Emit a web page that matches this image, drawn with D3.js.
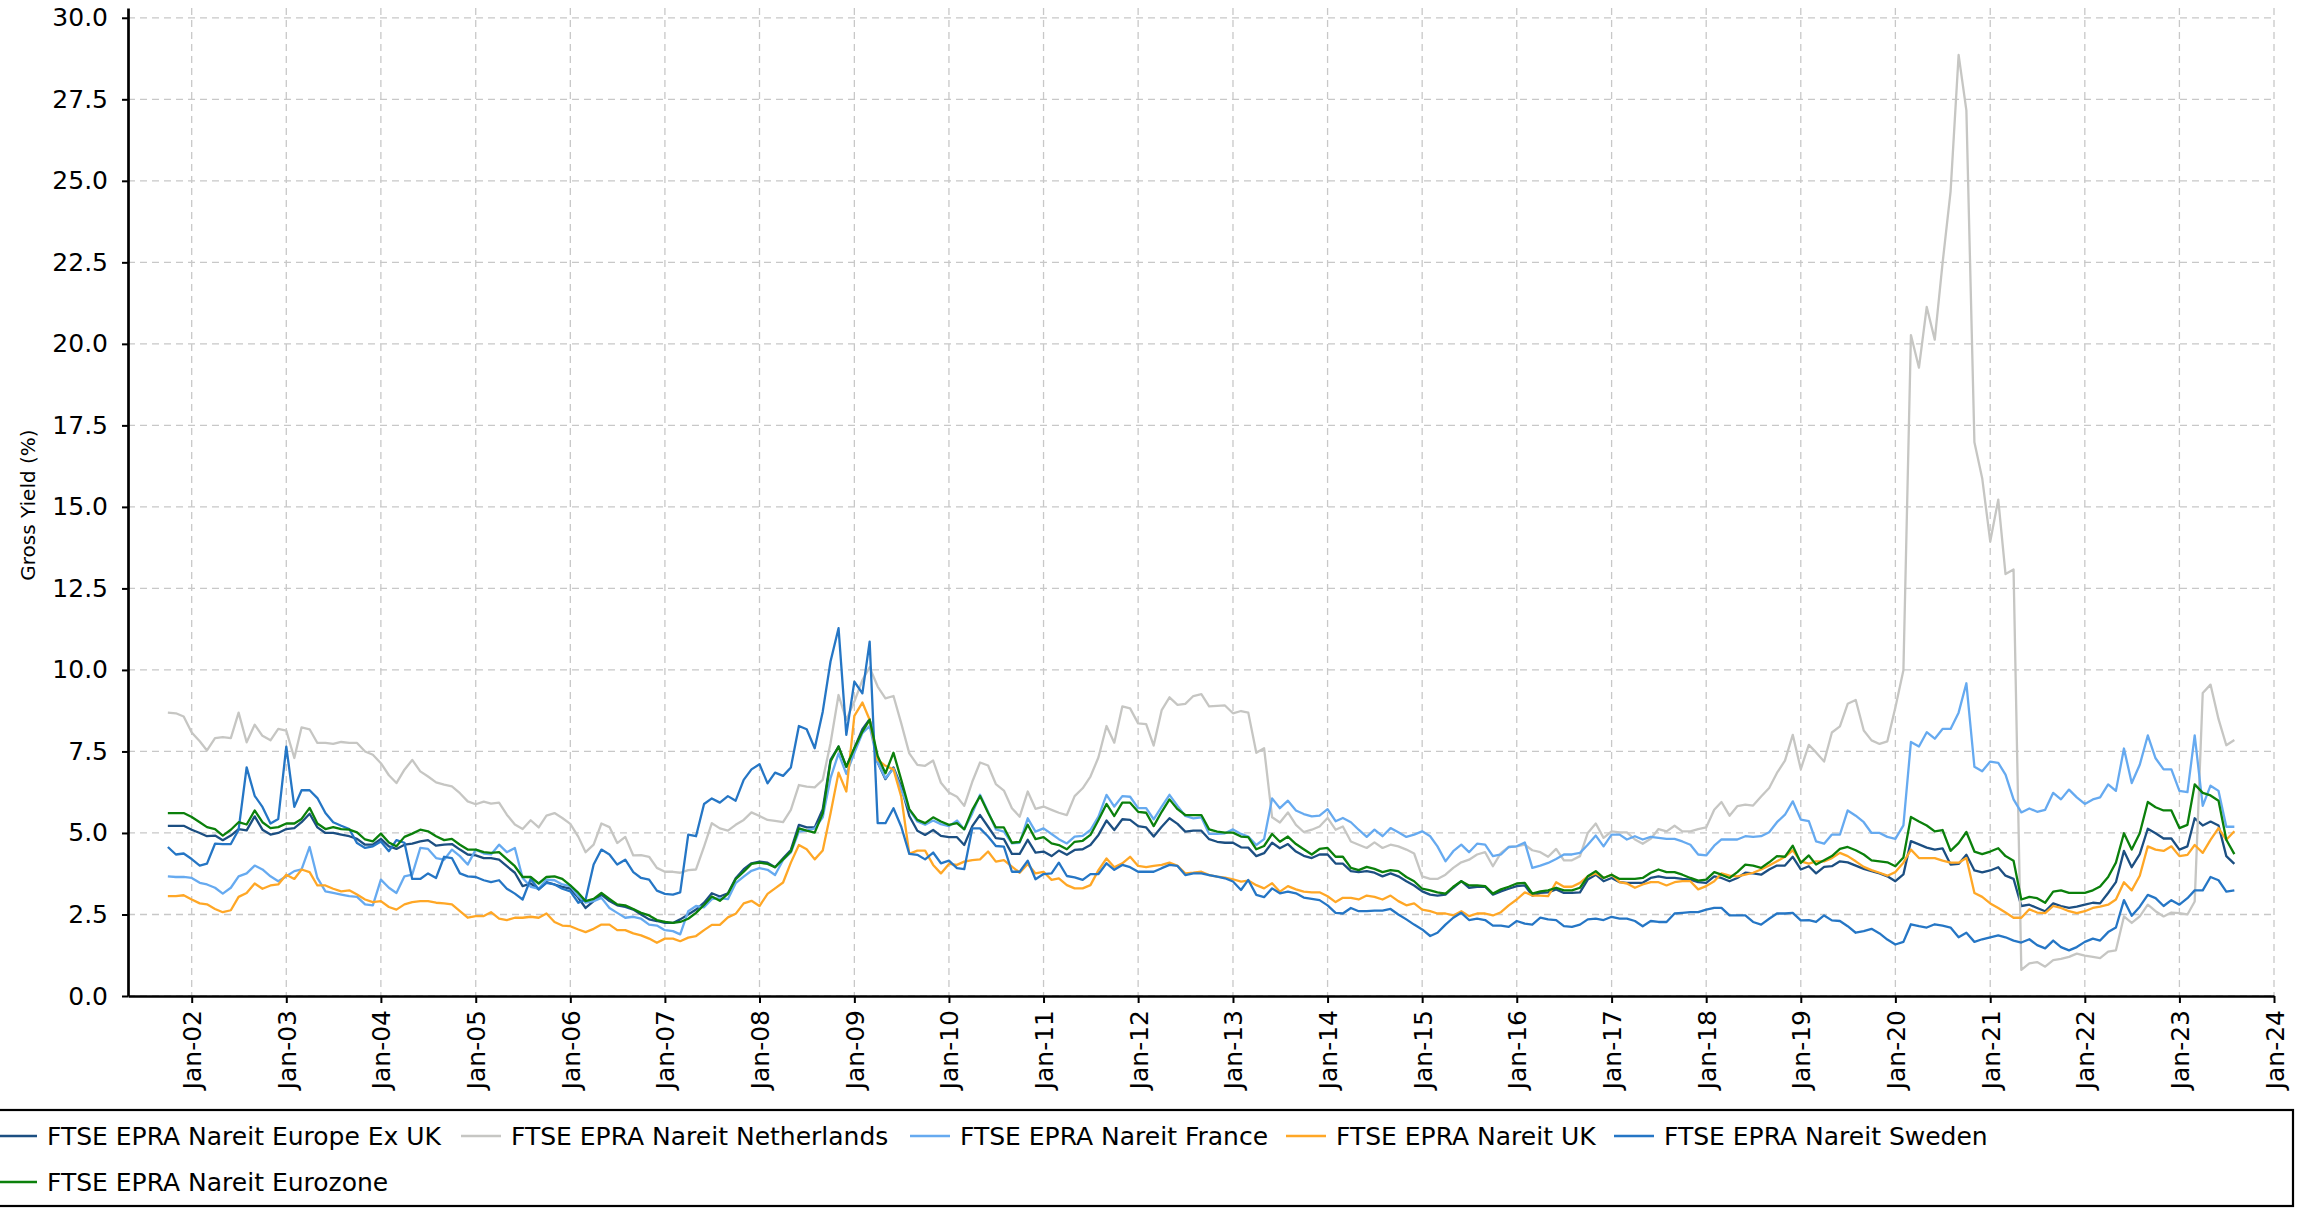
<!DOCTYPE html>
<html><head><meta charset="utf-8">
<script src="https://cdn.jsdelivr.net/npm/d3@7"></script>
<style>
html,body{margin:0;padding:0;background:#fff;}
svg{display:block;}
text{font-family:"DejaVu Sans",sans-serif;fill:#000;}
</style></head>
<body>
<svg id="chart" width="2306" height="1208"></svg>
<script>
// ---- DATA (monthly month-end values, Sep-2001 .. Jul-2023) ----
const firstMonth = [2001, 9];   // plotted at 1 Oct 2001 (month-end Sep 2001)
const lastMonth  = [2023, 7];   // plotted at 1 Aug 2023 (month-end Jul 2023)

const seriesNames = [
  "FTSE EPRA Nareit Europe Ex UK",
  "FTSE EPRA Nareit Netherlands",
  "FTSE EPRA Nareit France",
  "FTSE EPRA Nareit UK",
  "FTSE EPRA Nareit Sweden",
  "FTSE EPRA Nareit Eurozone"
];

const europeExUK = [
5.22,5.22,5.22,5.10,5.00,4.90,4.92,4.78,4.92,5.12,
5.08,5.51,5.10,4.95,5.00,5.12,5.15,5.33,5.59,5.17,
5.00,5.00,4.95,4.90,4.82,4.64,4.64,4.82,4.59,4.51,
4.64,4.67,4.74,4.78,4.61,4.64,4.66,4.49,4.34,4.31,
4.23,4.23,4.18,3.98,3.78,3.37,3.45,3.27,3.49,3.42,
3.35,3.29,3.01,2.70,2.91,3.11,2.91,2.78,2.73,2.65,
2.50,2.35,2.30,2.24,2.24,2.35,2.50,2.65,
2.86,3.15,3.05,3.15,3.61,3.89,4.07,4.12,4.09,3.95,
4.22,4.48,5.25,5.17,5.17,5.73,7.24,7.65,7.03,7.60,
8.18,8.49,7.16,6.65,7.01,6.42,5.52,5.07,4.94,5.09,
4.91,4.87,4.87,4.63,5.21,5.55,5.19,4.84,4.81,4.36,
4.36,4.79,4.40,4.43,4.29,4.46,4.33,4.48,4.50,4.63,
4.94,5.38,5.09,5.42,5.40,5.21,5.17,4.89,5.19,5.45,
5.28,5.04,5.07,5.07,4.81,4.73,4.70,4.70,4.56,4.55,
4.29,4.38,4.70,4.53,4.66,4.43,
4.30,4.23,4.34,4.34,4.06,4.06,3.83,3.80,3.83,3.78,
3.67,3.76,3.67,3.52,3.39,3.21,3.11,3.08,3.11,3.32,
3.52,3.32,3.35,3.35,3.11,3.21,3.29,3.37,3.39,3.08,
3.16,3.18,3.27,3.16,3.16,3.18,3.57,3.72,3.52,3.62,
3.49,3.47,3.47,3.47,3.62,3.67,3.62,3.62,3.59,3.57,
3.49,3.47,3.67,3.62,3.52,3.62,3.78,3.76,3.72,3.88,
4.00,4.00,4.27,3.88,3.98,3.76,3.96,3.98,4.13,4.10,
4.00,3.90,3.83,3.76,3.67,3.52,
3.73,4.75,4.65,4.55,4.49,4.53,4.03,4.05,4.33,3.85,
3.79,3.85,3.95,3.69,3.59,2.76,2.80,2.70,2.60,2.84,
2.76,2.70,2.74,2.80,2.86,2.84,3.16,3.49,4.45,3.95,
4.35,5.13,4.99,4.83,4.83,4.49,4.59,5.45,5.23,5.35,
5.23,4.29,4.05
];

const netherlands = [
8.69,8.67,8.57,8.08,7.81,7.53,7.91,7.94,7.91,8.69,
7.78,8.32,7.98,7.84,8.19,8.14,7.30,8.24,8.18,7.76,
7.76,7.73,7.79,7.76,7.76,7.50,7.40,7.14,6.77,6.53,
6.94,7.24,6.89,6.73,6.55,6.48,6.43,6.22,5.97,5.88,
5.96,5.90,5.93,5.56,5.26,5.12,5.39,5.17,5.53,5.61,
5.46,5.28,4.88,4.41,4.64,5.29,5.18,4.69,4.88,4.31,
4.32,4.27,3.93,3.81,3.81,3.78,3.86,3.88,
4.58,5.30,5.14,5.07,5.25,5.40,5.63,5.52,5.40,5.37,
5.33,5.71,6.47,6.42,6.40,6.63,7.75,9.23,8.47,9.03,
9.69,10.08,9.49,9.13,9.20,8.36,7.44,7.09,7.06,7.22,
6.54,6.24,6.11,5.83,6.57,7.16,7.07,6.50,6.30,5.76,
5.50,6.27,5.74,5.81,5.71,5.62,5.55,6.13,6.37,6.73,
7.32,8.28,7.77,8.88,8.82,8.36,8.34,7.68,8.77,9.16,
8.93,8.96,9.20,9.26,8.88,8.90,8.91,8.67,8.74,8.69,
7.46,7.60,5.48,5.32,5.63,5.25,
5.03,5.10,5.20,5.46,5.10,5.20,4.74,4.64,4.54,4.71,
4.54,4.64,4.59,4.49,4.37,3.67,3.59,3.59,3.72,3.93,
4.10,4.18,4.34,4.41,3.98,4.39,4.57,4.59,4.64,4.47,
4.41,4.27,4.51,4.16,4.16,4.29,5.00,5.29,4.85,5.05,
5.02,5.02,4.80,4.67,4.82,5.12,5.05,5.22,5.05,5.05,
5.12,5.17,5.71,5.95,5.53,5.82,5.87,5.84,6.12,6.38,
6.84,7.22,8.01,6.96,7.70,7.47,7.19,8.08,8.27,8.96,
9.08,8.14,7.84,7.73,7.81,8.85,
9.99,20.27,19.27,21.13,20.13,22.47,24.67,28.86,27.16,16.98,
15.88,13.94,15.22,12.94,13.08,0.80,1.00,1.04,0.90,1.10,
1.14,1.20,1.30,1.24,1.20,1.16,1.36,1.40,2.44,2.24,
2.44,2.80,2.60,2.44,2.56,2.54,2.50,2.90,9.29,9.55,
8.49,7.69,7.85
];

const france = [
3.67,3.65,3.65,3.62,3.47,3.42,3.32,3.14,3.32,3.67,
3.76,4.00,3.88,3.67,3.52,3.67,3.83,3.88,4.57,3.62,
3.21,3.16,3.11,3.06,3.04,2.81,2.78,3.57,3.32,3.16,
3.67,3.72,4.54,4.51,4.23,4.18,4.49,4.29,4.03,4.49,
4.37,4.34,4.64,4.41,4.54,3.62,3.35,3.29,3.57,3.55,
3.42,3.37,3.06,2.86,2.91,3.01,2.70,2.55,2.40,2.43,
2.37,2.19,2.16,2.02,1.99,1.89,2.60,2.76,
2.72,2.97,3.00,2.97,3.46,3.66,3.84,3.92,3.87,3.71,
4.17,4.40,5.04,5.07,5.14,5.48,6.68,7.44,6.81,7.46,
8.06,8.28,7.16,6.68,6.98,6.32,5.71,5.35,5.25,5.38,
5.27,5.21,5.38,5.11,5.60,6.17,5.65,5.11,5.04,4.68,
4.70,5.45,5.04,5.14,4.97,4.81,4.68,4.89,4.91,5.09,
5.50,6.17,5.81,6.13,6.11,5.76,5.76,5.42,5.81,6.17,
5.83,5.52,5.45,5.48,4.97,4.97,4.99,5.11,4.97,4.89,
4.63,4.81,6.06,5.76,5.99,5.69,
5.58,5.51,5.53,5.73,5.36,5.46,5.33,5.10,4.88,5.10,
4.90,5.15,5.02,4.88,4.95,5.05,4.90,4.59,4.13,4.44,
4.64,4.41,4.67,4.64,4.29,4.34,4.57,4.59,4.71,3.93,
4.00,4.08,4.20,4.34,4.34,4.39,4.64,4.92,4.59,4.95,
4.95,4.80,4.90,4.80,4.88,4.85,4.82,4.82,4.74,4.64,
4.34,4.31,4.61,4.80,4.80,4.80,4.90,4.88,4.90,5.02,
5.33,5.56,5.97,5.41,5.36,4.74,4.67,4.95,4.95,5.69,
5.53,5.33,5.00,5.00,4.88,4.82,
5.23,7.79,7.65,8.09,7.89,8.19,8.19,8.69,9.59,7.03,
6.89,7.19,7.15,6.79,6.03,5.63,5.75,5.65,5.71,6.23,
6.03,6.33,6.09,5.89,6.03,6.09,6.49,6.29,7.59,6.53,
7.09,7.99,7.29,6.95,6.95,6.29,6.25,7.99,5.83,6.45,
6.29,5.19,5.19
];

const uk = [
3.06,3.06,3.09,2.96,2.84,2.81,2.67,2.57,2.63,3.04,
3.16,3.45,3.29,3.39,3.42,3.72,3.59,3.88,3.80,3.39,
3.39,3.29,3.21,3.24,3.11,2.96,2.88,2.91,2.73,2.65,
2.81,2.88,2.91,2.91,2.86,2.84,2.81,2.60,2.40,2.45,
2.45,2.57,2.37,2.33,2.40,2.40,2.43,2.40,2.53,2.27,
2.16,2.14,2.04,1.96,2.06,2.19,2.19,2.02,2.02,1.92,
1.86,1.76,1.63,1.76,1.76,1.68,1.79,1.84,
2.02,2.18,2.18,2.41,2.52,2.84,2.92,2.76,3.13,3.30,
3.48,4.09,4.63,4.50,4.19,4.46,5.60,6.85,6.27,8.59,
9.00,8.47,7.24,7.06,6.95,6.11,4.36,4.46,4.46,4.02,
3.76,4.05,4.02,4.12,4.17,4.19,4.43,4.12,4.17,3.97,
3.78,4.05,3.76,3.81,3.56,3.61,3.40,3.30,3.30,3.40,
3.86,4.22,3.95,4.07,4.27,3.99,3.95,3.99,4.02,4.09,
3.99,3.76,3.78,3.81,3.71,3.66,3.63,3.58,3.51,3.54,
3.40,3.30,3.46,3.20,3.37,3.27,
3.20,3.18,3.18,3.06,2.88,3.01,3.01,2.96,3.08,3.04,
2.96,3.08,2.91,2.78,2.84,2.65,2.60,2.53,2.53,2.47,
2.60,2.45,2.53,2.53,2.47,2.57,2.78,2.96,3.18,3.08,
3.08,3.06,3.49,3.35,3.35,3.47,3.67,3.76,3.62,3.72,
3.49,3.45,3.32,3.42,3.49,3.49,3.39,3.49,3.52,3.52,
3.27,3.37,3.52,3.76,3.69,3.67,3.72,3.78,3.88,4.00,
4.13,4.27,4.47,4.13,4.06,4.13,4.13,4.23,4.39,4.29,
4.13,3.96,3.86,3.78,3.69,3.80,
4.09,4.49,4.23,4.23,4.23,4.15,4.09,4.09,4.23,3.16,
3.04,2.84,2.70,2.56,2.40,2.40,2.66,2.56,2.54,2.76,
2.70,2.60,2.54,2.60,2.70,2.74,2.80,2.96,3.49,3.24,
3.69,4.59,4.49,4.45,4.59,4.29,4.33,4.63,4.39,4.79,
5.15,4.79,5.05
];

const sweden = [
4.57,4.34,4.37,4.20,4.00,4.06,4.67,4.66,4.66,5.10,
7.01,6.14,5.80,5.29,5.43,7.65,5.80,6.31,6.31,6.07,
5.61,5.33,5.22,5.12,4.69,4.54,4.59,4.74,4.44,4.78,
4.70,3.59,3.59,3.76,3.62,4.27,4.23,3.76,3.67,3.65,
3.55,3.49,3.55,3.29,3.14,2.96,3.59,3.27,3.47,3.42,
3.29,3.21,2.86,2.96,4.03,4.49,4.34,4.03,4.18,3.80,
3.62,3.57,3.23,3.13,3.11,3.18,4.95,4.90,
5.89,6.06,5.93,6.13,5.99,6.63,6.95,7.11,6.52,6.85,
6.75,7.01,8.28,8.18,7.60,8.72,10.26,11.28,8.01,9.64,
9.28,10.87,5.30,5.30,5.76,5.19,4.36,4.33,4.19,4.40,
4.07,4.15,3.92,3.89,5.14,5.14,4.89,4.60,4.58,3.81,
3.81,4.15,3.58,3.74,3.76,4.09,3.68,3.64,3.56,3.74,
3.74,4.07,3.87,4.02,3.95,3.81,3.81,3.81,3.92,4.02,
3.99,3.71,3.76,3.76,3.71,3.66,3.61,3.51,3.25,3.56,
3.10,3.03,3.30,3.15,3.20,3.15,
3.02,2.98,2.94,2.78,2.55,2.53,2.70,2.60,2.60,2.62,
2.62,2.67,2.50,2.35,2.19,2.04,1.84,1.94,2.19,2.40,
2.55,2.33,2.37,2.33,2.16,2.16,2.12,2.30,2.22,2.19,
2.40,2.35,2.33,2.14,2.12,2.19,2.35,2.37,2.33,2.43,
2.37,2.37,2.30,2.14,2.30,2.27,2.27,2.53,2.55,2.57,
2.57,2.65,2.70,2.70,2.47,2.47,2.47,2.27,2.19,2.37,
2.53,2.53,2.55,2.32,2.33,2.27,2.47,2.32,2.30,2.14,
1.94,1.99,2.06,1.92,1.73,1.58,
1.66,2.20,2.14,2.10,2.20,2.16,2.10,1.80,1.94,1.66,
1.74,1.80,1.86,1.80,1.70,1.64,1.74,1.56,1.46,1.70,
1.50,1.40,1.50,1.66,1.76,1.70,1.96,2.10,2.94,2.46,
2.74,3.10,3.00,2.76,2.94,2.80,3.00,3.24,3.24,3.65,
3.55,3.20,3.24
];

const eurozone = [
5.61,5.61,5.61,5.49,5.33,5.18,5.12,4.92,5.10,5.33,
5.26,5.69,5.33,5.15,5.18,5.29,5.29,5.43,5.77,5.29,
5.12,5.18,5.12,5.10,5.02,4.80,4.74,4.98,4.71,4.59,
4.88,4.98,5.10,5.05,4.90,4.78,4.82,4.64,4.49,4.49,
4.41,4.39,4.41,4.20,3.98,3.65,3.65,3.45,3.65,3.67,
3.59,3.39,3.16,2.91,2.98,3.16,2.98,2.81,2.78,2.67,
2.55,2.47,2.33,2.27,2.24,2.27,2.37,2.55,
2.79,3.05,2.92,3.13,3.58,3.81,4.05,4.09,4.05,3.95,
4.19,4.43,5.14,5.07,5.01,5.60,7.19,7.65,7.03,7.60,
8.11,8.47,7.36,6.83,7.46,6.63,5.73,5.40,5.30,5.48,
5.35,5.25,5.30,5.11,5.71,6.13,5.62,5.17,5.17,4.70,
4.73,5.25,4.81,4.87,4.68,4.63,4.50,4.73,4.76,4.94,
5.40,5.89,5.52,5.93,5.93,5.65,5.62,5.21,5.65,6.03,
5.73,5.55,5.55,5.55,5.11,5.04,5.01,5.01,4.89,4.87,
4.50,4.60,4.97,4.73,4.89,4.66,
4.50,4.34,4.51,4.54,4.27,4.27,3.93,3.86,3.96,3.90,
3.80,3.86,3.83,3.65,3.52,3.29,3.24,3.18,3.14,3.35,
3.52,3.39,3.39,3.37,3.14,3.27,3.35,3.45,3.47,3.14,
3.21,3.24,3.32,3.24,3.24,3.32,3.67,3.83,3.62,3.72,
3.59,3.59,3.59,3.62,3.78,3.88,3.80,3.80,3.72,3.62,
3.54,3.57,3.80,3.72,3.62,3.80,4.03,4.00,3.93,4.10,
4.29,4.27,4.61,4.08,4.31,4.03,4.16,4.29,4.51,4.57,
4.47,4.34,4.16,4.13,4.10,3.98,
4.25,5.49,5.35,5.23,5.05,5.09,4.45,4.69,5.03,4.43,
4.35,4.43,4.53,4.29,4.15,2.96,3.04,3.00,2.86,3.20,
3.24,3.16,3.16,3.16,3.24,3.36,3.65,4.09,4.99,4.49,
4.99,5.95,5.79,5.69,5.69,5.15,5.25,6.49,6.23,6.15,
5.99,4.79,4.35
];

const yTickValues = [0, 2.5, 5, 7.5, 10, 12.5, 15, 17.5, 20, 22.5, 25, 27.5, 30];
const xTickYears = [2002,2003,2004,2005,2006,2007,2008,2009,2010,2011,2012,2013,
                    2014,2015,2016,2017,2018,2019,2020,2021,2022,2023,2024];
const yAxisTitle = "Gross Yield (%)";

// ---- STYLE / LAYOUT ----
const seriesValues = [europeExUK, netherlands, france, uk, sweden, eurozone];
const seriesColors = ["#1c4f82", "#c6c6c3", "#66aaf0", "#ffa726", "#2576c5", "#0b800b"];
const legendLayout = [
  {hx: -3,   row: 0}, {hx: 461, row: 0}, {hx: 910, row: 0},
  {hx: 1286, row: 0}, {hx: 1614, row: 0}, {hx: -3, row: 1}
];

const svg = d3.select("#chart");
const xLeft = 128, xRight = 2274, yTop = 8, yBottom = 996;

const dates = d3.timeMonth.range(new Date(firstMonth[0], firstMonth[1], 1),
                                 new Date(lastMonth[0], lastMonth[1] + 1, 1));
seriesValues.forEach((s, i) => { if (s.length !== dates.length) console.warn(seriesNames[i], s.length, dates.length); });

const xRef = d3.scaleTime().domain([new Date(2002,0,1), new Date(2024,0,1)]).range([191.7, xRight]);
const x = d3.scaleTime().domain([xRef.invert(xLeft), new Date(2024,0,1)]).range([xLeft, xRight]);
const y = d3.scaleLinear().domain([0, 30.3]).range([yBottom, yTop]);
const xTickDates = xTickYears.map(yr => new Date(yr, 0, 1));

// grid
const grid = svg.append("g");
grid.selectAll("line.v").data(xTickDates).join("line")
  .attr("x1", d => x(d)).attr("x2", d => x(d)).attr("y1", yTop).attr("y2", yBottom)
  .attr("stroke", "#c8c8c8").attr("stroke-width", 1.3).attr("stroke-dasharray", "7,5");
grid.selectAll("line.h").data(yTickValues).join("line")
  .attr("x1", xLeft).attr("x2", xRight).attr("y1", d => y(d)).attr("y2", d => y(d))
  .attr("stroke", "#c8c8c8").attr("stroke-width", 1.3).attr("stroke-dasharray", "7,5");

// lines
const line = d3.line().x((d, i) => x(dates[i])).y(d => y(d));
svg.append("g").selectAll("path").data(seriesValues).join("path")
  .attr("d", d => line(d))
  .attr("fill", "none")
  .attr("stroke", (d, i) => seriesColors[i])
  .attr("stroke-width", 2.3)
  .attr("stroke-linejoin", "round");

// axes
const yAxis = svg.append("g").attr("transform", `translate(${xLeft},0)`)
  .call(d3.axisLeft(y).tickValues(yTickValues).tickFormat(d3.format(".1f")).tickSize(6).tickSizeOuter(0).tickPadding(14));
yAxis.select(".domain").attr("stroke", "#000").attr("stroke-width", 2.7);
yAxis.selectAll(".tick line").attr("stroke", "#000").attr("stroke-width", 2);
yAxis.selectAll(".tick text").attr("font-size", 25).attr("font-family", "DejaVu Sans");

const xAxis = svg.append("g").attr("transform", `translate(0,${yBottom})`)
  .call(d3.axisBottom(x).tickValues(xTickDates).tickFormat(d3.timeFormat("%b-%y")).tickSize(7).tickSizeOuter(0));
xAxis.select(".domain").attr("stroke", "#000").attr("stroke-width", 2.7);
xAxis.selectAll(".tick line").attr("stroke", "#000").attr("stroke-width", 2);
xAxis.selectAll(".tick text")
  .attr("font-size", 25).attr("font-family", "DejaVu Sans")
  .attr("transform", "rotate(-90)")
  .attr("text-anchor", "end")
  .attr("x", -14).attr("y", 0).attr("dy", "0.36em");

// y title
svg.append("text")
  .attr("transform", "translate(28,505) rotate(-90)")
  .attr("text-anchor", "middle").attr("dy", "0.36em")
  .attr("font-size", 20)
  .text(yAxisTitle);

// legend
const lg = svg.append("g");
lg.append("rect").attr("x", -15).attr("y", 1110).attr("width", 2308).attr("height", 96)
  .attr("fill", "#fff").attr("stroke", "#000").attr("stroke-width", 2.2);
const rowY = [1136, 1182];
const items = lg.selectAll("g.item").data(seriesNames).join("g");
items.append("line")
  .attr("x1", (d, i) => legendLayout[i].hx).attr("x2", (d, i) => legendLayout[i].hx + 40)
  .attr("y1", (d, i) => rowY[legendLayout[i].row]).attr("y2", (d, i) => rowY[legendLayout[i].row])
  .attr("stroke", (d, i) => seriesColors[i]).attr("stroke-width", 2.6);
items.append("text")
  .attr("x", (d, i) => legendLayout[i].hx + 50)
  .attr("y", (d, i) => rowY[legendLayout[i].row])
  .attr("dy", "0.36em").attr("font-size", 25)
  .text(d => d);
</script>
</body></html>
